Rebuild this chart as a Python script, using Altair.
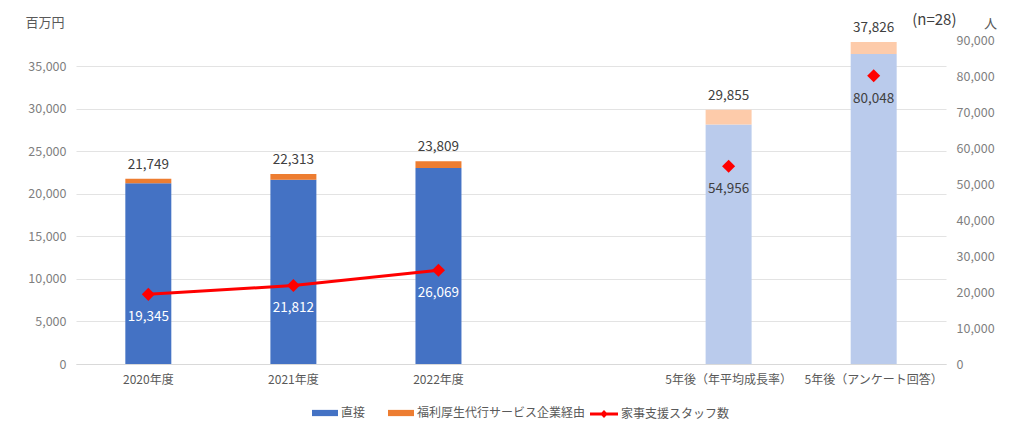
import altair as alt
import pandas as pd

# ---- data ----
x_domain = ["2020年度", "2021年度", "2022年度", " ", "5年後（年平均成長率）", "5年後（アンケート回答）"]
categories = ["2020年度", "2021年度", "2022年度", "5年後（年平均成長率）", "5年後（アンケート回答）"]
forecast = [False, False, False, True, True]
totals = [21749, 22313, 23809, 29855, 37826]
direct = [21220, 21640, 23030, 28120, 36420]
staff = [19345, 21812, 26069, 54956, 80048]
series_names = ["直接", "福利厚生代行サービス企業経由"]
staff_name = "家事支援スタッフ数"

FONT = "Noto Sans CJK JP"
BLUE, ORANGE = "#4472C4", "#ED7D31"
LBLUE, PEACH = "#BACBEC", "#FDCBAA"
RED = "#FF0000"
LABEL = "#595959"
TEXT = "#404040"

rows = []
for c, f, t, d in zip(categories, forecast, totals, direct):
    via = t - d
    rows.append({"category": c, "series": series_names[0], "key": series_names[0] + ("_f" if f else ""), "value": d, "ord": 0})
    rows.append({"category": c, "series": series_names[1], "key": series_names[1] + ("_f" if f else ""), "value": via, "ord": 1})
bar_df = pd.DataFrame(rows)
tot_df = pd.DataFrame({"category": categories, "total": totals})
staff_df = pd.DataFrame({"category": categories, "staff": staff, "forecast": forecast, "name": staff_name})

x_enc = alt.X(
    "category:N",
    sort=x_domain,
    scale=alt.Scale(domain=x_domain, paddingInner=0.683, paddingOuter=0.34),
    axis=alt.Axis(title=None, labelAngle=0, labelColor=LABEL, labelFont=FONT, labelFontSize=12,
                  ticks=False, domainColor="#D9D9D9", labelPadding=10, grid=False, labelLimit=300),
)

left_scale = alt.Scale(domain=[0, 38054], nice=False)
right_scale = alt.Scale(domain=[0, 90000], nice=False)

bars = alt.Chart(bar_df).mark_bar().encode(
    x=x_enc,
    y=alt.Y("value:Q", stack="zero", scale=left_scale,
            axis=alt.Axis(title="百万円", titleAngle=0, titleX=-51, titleY=-18, titleAlign="left",
                          titleBaseline="middle", titleColor=LABEL, titleFont=FONT, titleFontSize=13,
                          titleFontWeight="normal", grid=True,
                          values=list(range(0, 35001, 5000)), format=",d", labelColor="#7F7F7F",
                          labelFont=FONT, labelFontSize=12.5, ticks=False, domain=False,
                          gridColor="#E3E3E3", labelPadding=10)),
    color=alt.Color("key:N",
                    scale=alt.Scale(domain=series_names + [s + "_f" for s in series_names],
                                    range=[BLUE, ORANGE, LBLUE, PEACH]),
                    legend=alt.Legend(title=None, values=series_names, orient="none",
                                      direction="horizontal", legendX=236, legendY=360,
                                      symbolType="M-1,-0.24H1V0.24H-1Z", symbolSize=676,
                                      symbolStrokeWidth=0, labelFont=FONT, labelFontSize=12,
                                      labelColor=LABEL, columnPadding=22, labelOffset=3,
                                      labelLimit=300, padding=0)),
    order=alt.Order("ord:Q"),
)

tot_text = alt.Chart(tot_df).mark_text(dy=-14, font=FONT, fontSize=13.5, color=TEXT).encode(
    x=alt.X("category:N", sort=x_domain, scale=alt.Scale(domain=x_domain)),
    y=alt.Y("total:Q", scale=left_scale),
    text=alt.Text("total:Q", format=",d"),
)

left = alt.layer(bars, tot_text)

y_right = alt.Y("staff:Q", scale=right_scale,
                axis=alt.Axis(orient="right", title="人", titleAngle=0, titleX=44, titleY=-17,
                              titleAlign="center", titleBaseline="middle", titleColor=LABEL,
                              titleFont=FONT, titleFontSize=13, titleFontWeight="normal",
                              values=list(range(0, 90001, 10000)), format=",d",
                              labelColor="#7F7F7F", labelFont=FONT, labelFontSize=12.5,
                              ticks=False, domain=False, grid=False, labelPadding=10))

line = alt.Chart(staff_df).transform_filter("!datum.forecast").mark_line(
    color=RED, strokeWidth=3).encode(
    x=alt.X("category:N", sort=x_domain, scale=alt.Scale(domain=x_domain)),
    y=y_right,
)

points = alt.Chart(staff_df).mark_point(filled=True, shape="diamond", size=170, opacity=1).encode(
    x=alt.X("category:N", sort=x_domain, scale=alt.Scale(domain=x_domain)),
    y=y_right,
    color=alt.Color("name:N", scale=alt.Scale(domain=[staff_name], range=[RED]),
                    legend=alt.Legend(title=None, orient="none", legendX=514, legendY=360,
                                      symbolType="M-1,-0.11H1V0.11H-1Z M0,-0.28L0.28,0L0,0.28L-0.28,0Z",
                                      symbolSize=784, symbolStrokeWidth=0,
                                      labelFont=FONT, labelFontSize=12, labelColor=LABEL,
                                      labelOffset=3, labelLimit=300, padding=0)),
)

staff_text = alt.Chart(staff_df).mark_text(dy=23, font=FONT, fontSize=13.5).encode(
    x=alt.X("category:N", sort=x_domain, scale=alt.Scale(domain=x_domain)),
    y=y_right,
    text=alt.Text("staff:Q", format=",d"),
    color=alt.condition("datum.forecast", alt.value(TEXT), alt.value("#FFFFFF")),
)

right = alt.layer(line, points, staff_text)

chart = alt.layer(left, right).resolve_scale(y="independent", color="independent").properties(
    width=870, height=324,
    autosize=alt.AutoSizeParams(type="none"),
    padding={"left": 68, "top": 32, "right": 70, "bottom": 63},
    title=alt.TitleParams("(n=28)", anchor="end", font=FONT, fontSize=15, fontWeight="normal",
                          color=TEXT, dx=-40, offset=-12),
).configure_view(stroke=None)

chart.save("out.html", embed_options={"renderer": "svg", "actions": False})
